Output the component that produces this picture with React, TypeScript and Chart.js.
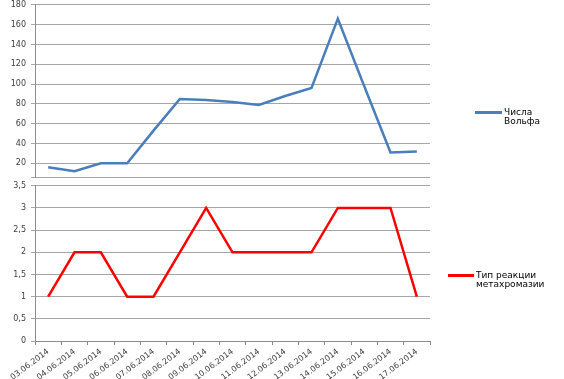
import React, { useEffect, useRef } from "react";
import { Chart, registerables } from "chart.js";

Chart.register(...registerables);

const dates = [
  "03.06.2014", "04.06.2014", "05.06.2014", "06.06.2014", "07.06.2014",
  "08.06.2014", "09.06.2014", "10.06.2014", "11.06.2014", "12.06.2014",
  "13.06.2014", "14.06.2014", "15.06.2014", "16.06.2014", "17.06.2014",
];
const wolfNumbers = [16, 12, 20, 20, 53, 85, 84, 82, 79, 88, 96, 166, 98, 31, 32];
const reactionType = [1, 2, 2, 1, 1, 2, 3, 2, 2, 2, 2, 3, 3, 3, 1];
const wolfTicks = [20, 40, 60, 80, 100, 120, 140, 160, 180];
const reactionTicks = [0, 0.5, 1, 1.5, 2, 2.5, 3, 3.5];
const wolfLabel = "Числа Вольфа";
const reactionLabel = "Тип реакции метахромазии";

const FONT = "'DejaVu Sans', Verdana, sans-serif";
const GRID = "#a6a6a6";
const AXIS = "#8c8c8c";
const TICK_COLOR = "#404040";

function fmt(v: number) {
  return String(v).replace(".", ",");
}

export default function App() {
  const topRef = useRef<HTMLCanvasElement | null>(null);
  const botRef = useRef<HTMLCanvasElement | null>(null);

  useEffect(() => {
    Chart.defaults.font.family = FONT;
    const topMin = 6;
    const top = new Chart(topRef.current!, {
      type: "line",
      data: {
        labels: dates,
        datasets: [
          {
            label: wolfLabel,
            data: wolfNumbers,
            borderColor: "#4a7ebb",
            borderWidth: 2.5,
            pointRadius: 0,
            tension: 0,
          },
        ],
      },
      options: {
        animation: false,
        responsive: false,
        layout: { padding: { top: 5, right: 134, left: 0, bottom: 0 } },
        plugins: { legend: { display: false }, tooltip: { enabled: false } },
        scales: {
          x: { type: "category", offset: true, display: false },
          y: {
            min: topMin,
            max: 180,
            afterBuildTicks: (s: any) => {
              s.ticks = [{ value: topMin }, ...wolfTicks.map((v) => ({ value: v }))];
            },
            afterFit: (s: any) => {
              s.width = 35;
            },
            ticks: {
              font: { size: 8 },
              color: TICK_COLOR,
              padding: 5,
              callback: (v: any) => (wolfTicks.includes(Number(v)) ? fmt(Number(v)) : ""),
            },
            grid: { color: GRID, tickLength: 4 },
            border: { color: AXIS },
          },
        },
      },
    });

    const bot = new Chart(botRef.current!, {
      type: "line",
      data: {
        labels: dates,
        datasets: [
          {
            label: reactionLabel,
            data: reactionType,
            borderColor: "#ff0000",
            borderWidth: 2.5,
            pointRadius: 0,
            tension: 0,
          },
        ],
      },
      options: {
        animation: false,
        responsive: false,
        layout: { padding: { top: 7, right: 134, left: 0, bottom: 0 } },
        plugins: { legend: { display: false }, tooltip: { enabled: false } },
        scales: {
          x: {
            type: "category",
            offset: true,
            afterFit: (s: any) => {
              s.height = 38;
            },
            ticks: {
              font: { size: 8 },
              color: TICK_COLOR,
              minRotation: 37,
              maxRotation: 37,
              autoSkip: false,
              padding: 2,
            },
            grid: { drawOnChartArea: false, offset: true, tickLength: 4, color: AXIS },
            border: { color: AXIS },
          },
          y: {
            min: 0,
            max: 3.5,
            afterBuildTicks: (s: any) => {
              s.ticks = reactionTicks.map((v) => ({ value: v }));
            },
            afterFit: (s: any) => {
              s.width = 35;
            },
            ticks: {
              font: { size: 8 },
              color: TICK_COLOR,
              padding: 5,
              callback: (v: any) => fmt(Number(v)),
            },
            grid: { color: GRID, tickLength: 4 },
            border: { color: AXIS },
          },
        },
      },
    });

    return () => {
      top.destroy();
      bot.destroy();
    };
  }, []);

  const legendText: React.CSSProperties = {
    position: "absolute",
    fontFamily: FONT,
    fontSize: 9,
    lineHeight: "9px",
    color: "#000",
    whiteSpace: "nowrap",
  };

  return (
    <div
      style={{
        position: "fixed",
        left: 0,
        top: 0,
        width: 564,
        height: 379,
        background: "#fff",
        overflow: "hidden",
      }}
    >
      <div style={{ position: "absolute", left: 0, top: 0, width: 564, height: 178, overflow: "hidden" }}>
        <canvas
          ref={topRef}
          width={564}
          height={192}
          style={{ position: "absolute", left: 0, top: -5, width: 564, height: 192 }}
        />
      </div>
      <div style={{ position: "absolute", left: 0, top: 176, width: 564, height: 203 }}>
        <canvas
          ref={botRef}
          width={564}
          height={203}
          style={{ position: "absolute", left: 0, top: 0, width: 564, height: 203 }}
        />
      </div>
      <div style={{ position: "absolute", left: 475, top: 111, width: 27, height: 2.5, background: "#4a7ebb" }} />
      <div style={{ ...legendText, left: 504, top: 107.5 }}>
        Числа
        <br />
        Вольфа
      </div>
      <div style={{ position: "absolute", left: 448, top: 274, width: 26, height: 2.5, background: "#ff0000" }} />
      <div style={{ ...legendText, left: 476, top: 270.5 }}>
        Тип реакции
        <br />
        метахромазии
      </div>
    </div>
  );
}
